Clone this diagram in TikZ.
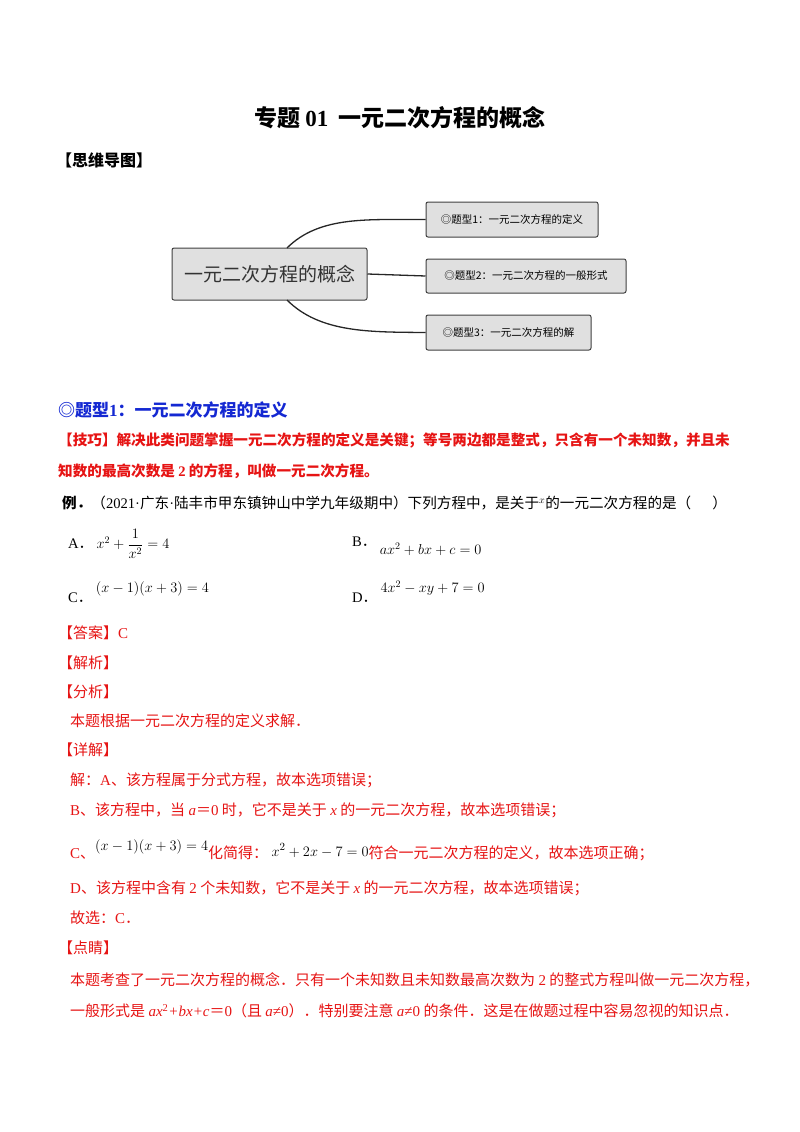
\documentclass[tikz,border=0pt]{standalone}
\usepackage{amsmath}
\usepackage{fontspec}
\setmainfont{Noto Sans CJK SC}
\newfontfamily\lserif{Liberation Serif}
\usetikzlibrary{positioning}
\definecolor{rd}{RGB}{230,20,20}
\definecolor{bl}{RGB}{20,40,210}
\definecolor{boxgray}{RGB}{224,224,224}
\tikzset{
  txt/.style={anchor=west,inner sep=0pt,font=\fontsize{14.6}{16}\selectfont},
  rtxt/.style={txt,text=rd,font=\fontsize{15}{17}\selectfont},
  mbox/.style={draw=black!75,fill=boxgray,rounded corners=2pt,line width=1pt,inner sep=0pt},
  link/.style={line width=1.3pt,black!85}
}
\begin{document}
\begin{tikzpicture}[x=1pt,y=-1pt]
\useasboundingbox (0,0) rectangle (800,1132);
\node[font=\fontsize{23}{26}\selectfont\bfseries] (title) at (400,118) {专题 {\lserif\bfseries 01}\ \ 一元二次方程的概念};
\node[txt,font=\fontsize{16}{18}\selectfont\bfseries] (mm) at (56,160) {【思维导图】};
% mind map
\node[mbox,minimum width=195,minimum height=52,font=\fontsize{19}{22}\selectfont,text=black!80] (c) at (269.5,274) {一元二次方程的概念};
\node[mbox,minimum width=172,minimum height=35,font=\fontsize{10.5}{12}\selectfont] (b1) at (512,219.5) {◎题型1：一元二次方程的定义};
\node[mbox,minimum width=200,minimum height=34,font=\fontsize{10.5}{12}\selectfont] (b2) at (526,276) {◎题型2：一元二次方程的一般形式};
\node[mbox,minimum width=165,minimum height=35,font=\fontsize{10.5}{12}\selectfont] (b3) at (508.5,332.5) {◎题型3：一元二次方程的解};
\draw[link] (287,248) .. controls (320,215) and (370,220) .. (b1.west);
\draw[link] (c.east) -- (b2.west);
\draw[link] (287,300) .. controls (320,333) and (370,332) .. (b3.west);
% heading
\node[txt,text=bl,font=\fontsize{17}{19}\selectfont\bfseries] (h1) at (58,410) {◎题型{\lserif\bfseries 1}：一元二次方程的定义};
\node[txt,text=rd,font=\fontsize{14.6}{16}\selectfont\bfseries] (jq1) at (58,440) {【技巧】解决此类问题掌握一元二次方程的定义是关键；等号两边都是整式，只含有一个未知数，并且未};
\node[txt,text=rd,font=\fontsize{14.6}{16}\selectfont\bfseries] (jq2) at (58,471) {知数的最高次数是 {\lserif\bfseries 2} 的方程，叫做一元二次方程。};
\node[txt] (ex) at (62,503) {\textbf{例．}（{\lserif 2021·}广东{\lserif ·}陆丰市甲东镇钟山中学九年级期中）下列方程中，是关于$^{x}$的一元二次方程的是（\quad\ \ ）};
\node[txt] (oa) at (68,544) {{\lserif A}．\ $x^2+\dfrac{1}{x^2}=4$};
\node[txt] (ob) at (352,546) {{\lserif B}．\ \raisebox{-8pt}{$ax^2+bx+c=0$}};
\node[txt] (oc) at (68,592) {{\lserif C}．\ \raisebox{10pt}{$(x-1)(x+3)=4$}};
\node[txt] (od) at (352,592) {{\lserif D}．\ \raisebox{10pt}{$4x^2-xy+7=0$}};
\node[rtxt] (ans) at (58,633) {【答案】{\lserif C}};
\node[rtxt] (jx) at (58,663) {【解析】};
\node[rtxt] (fx) at (58,692) {【分析】};
\node[rtxt] (l1) at (70,721) {本题根据一元二次方程的定义求解．};
\node[rtxt] (xj) at (58,750) {【详解】};
\node[rtxt] (l2) at (70,780) {解：{\lserif A}、该方程属于分式方程，故本选项错误；};
\node[rtxt] (l3) at (70,810) {{\lserif B}、该方程中，当 {\lserif\itshape a}＝{\lserif 0} 时，它不是关于 {\lserif\itshape x} 的一元二次方程，故本选项错误；};
\node[rtxt] (l4) at (70,850) {{\lserif C}、\raisebox{8pt}{\color{black}$(x-1)(x+3)=4$}化简得：\ \raisebox{2pt}{\color{black}$x^2+2x-7=0$}符合一元二次方程的定义，故本选项正确；};
\node[rtxt] (l5) at (70,888) {{\lserif D}、该方程中含有 {\lserif 2} 个未知数，它不是关于 {\lserif\itshape x} 的一元二次方程，故本选项错误；};
\node[rtxt] (l6) at (70,918) {故选：{\lserif C}．};
\node[rtxt] (dj) at (58,948) {【点睛】};
\node[rtxt] (l7) at (70,980) {本题考查了一元二次方程的概念．只有一个未知数且未知数最高次数为 {\lserif 2} 的整式方程叫做一元二次方程，};
\node[rtxt] (l8) at (70,1011) {一般形式是 {\lserif\itshape ax\textsuperscript{\upshape 2}+bx+c}＝{\lserif 0}（且 {\lserif\itshape a}{\lserif≠0}）．特别要注意 {\lserif\itshape a}{\lserif≠0} 的条件．这是在做题过程中容易忽视的知识点．};
\end{tikzpicture}
\end{document}
